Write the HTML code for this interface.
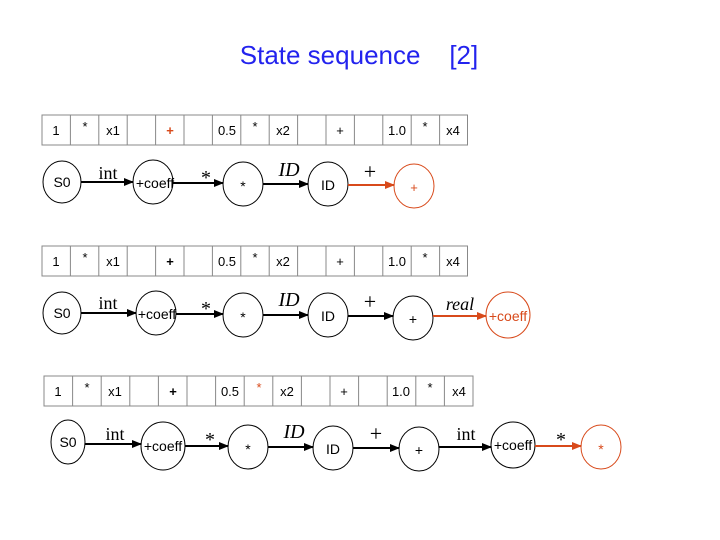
<!DOCTYPE html>
<html><head><style>body{margin:0;background:#fff}svg{display:block}</style></head><body>
<svg width="720" height="540" viewBox="0 0 720 540" xmlns="http://www.w3.org/2000/svg" font-family="Liberation Sans, Arial, sans-serif">
<defs>
<marker id="ab" markerWidth="10" markerHeight="8" refX="9" refY="4" orient="auto" markerUnits="userSpaceOnUse"><path d="M0,0 L10,4 L0,8 z" fill="#000"/></marker>
<marker id="ao" markerWidth="10" markerHeight="8" refX="9" refY="4" orient="auto" markerUnits="userSpaceOnUse"><path d="M0,0 L10,4 L0,8 z" fill="#d84a1b"/></marker>
</defs>
<rect width="720" height="540" fill="#fff"/>
<text x="359" y="64" font-size="26" fill="#2323ee" text-anchor="middle" xml:space="preserve">State sequence    [2]</text>

<g stroke="#888" fill="none" stroke-width="1">
<rect x="42" y="115" width="425.5" height="30"/>
<rect x="42" y="246" width="425.5" height="30"/>
<rect x="44" y="376" width="429" height="30"/>
</g>
<g stroke="#888" stroke-width="1">
<path d="M70.4 115v30M98.8 115v30M127.2 115v30M155.6 115v30M184 115v30M212.4 115v30M240.8 115v30M269.2 115v30M297.6 115v30M326 115v30M354.4 115v30M382.8 115v30M411.2 115v30M439.6 115v30"/>
<path d="M70.4 246v30M98.8 246v30M127.2 246v30M155.6 246v30M184 246v30M212.4 246v30M240.8 246v30M269.2 246v30M297.6 246v30M326 246v30M354.4 246v30M382.8 246v30M411.2 246v30M439.6 246v30"/>
<path d="M72.6 376v30M101.2 376v30M129.8 376v30M158.4 376v30M187 376v30M215.6 376v30M244.2 376v30M272.8 376v30M301.4 376v30M330 376v30M358.6 376v30M387.2 376v30M415.8 376v30M444.4 376v30"/>
</g>
<g font-size="13" text-anchor="middle">
<text x="56" y="135">1</text><text x="85" y="131">*</text><text x="113" y="135">x1</text><text x="170" y="135" fill="#d84a1b" font-weight="bold">+</text><text x="227" y="135">0.5</text><text x="255" y="131">*</text><text x="283" y="135">x2</text><text x="340" y="135">+</text><text x="397" y="135">1.0</text><text x="425" y="131">*</text><text x="453" y="135">x4</text>
<text x="56" y="266">1</text><text x="85" y="262">*</text><text x="113" y="266">x1</text><text x="170" y="266" font-weight="bold">+</text><text x="227" y="266">0.5</text><text x="255" y="262">*</text><text x="283" y="266">x2</text><text x="340" y="266">+</text><text x="397" y="266">1.0</text><text x="425" y="262">*</text><text x="453" y="266">x4</text>
<text x="58" y="396">1</text><text x="87" y="392">*</text><text x="115" y="396">x1</text><text x="173" y="396" font-weight="bold">+</text><text x="230" y="396">0.5</text><text x="259" y="392" fill="#d84a1b">*</text><text x="287" y="396">x2</text><text x="344" y="396">+</text><text x="401" y="396">1.0</text><text x="430" y="392">*</text><text x="459" y="396">x4</text>
</g>

<g fill="none" stroke="#000" stroke-width="1">
<ellipse cx="62" cy="182" rx="19" ry="21"/><ellipse cx="153" cy="182" rx="20" ry="22"/><ellipse cx="243" cy="184" rx="20" ry="22"/><ellipse cx="328" cy="184" rx="20" ry="22"/>
<ellipse cx="414" cy="186" rx="20" ry="22" stroke="#d84a1b"/>
<ellipse cx="62" cy="313" rx="19" ry="21"/><ellipse cx="156" cy="313" rx="20" ry="22"/><ellipse cx="243" cy="315" rx="20" ry="22"/><ellipse cx="328" cy="315" rx="20" ry="22"/><ellipse cx="413" cy="318" rx="20" ry="22"/>
<ellipse cx="508" cy="315" rx="22" ry="23" stroke="#d84a1b"/>
<ellipse cx="68" cy="442" rx="17" ry="22"/><ellipse cx="163" cy="446" rx="22" ry="24"/><ellipse cx="248" cy="447" rx="20" ry="22"/><ellipse cx="333" cy="448" rx="20" ry="22"/><ellipse cx="419" cy="449" rx="20" ry="22"/><ellipse cx="513" cy="445" rx="22" ry="23"/>
<ellipse cx="601" cy="447" rx="20" ry="22" stroke="#d84a1b"/>
</g>
<g stroke-width="2" fill="none">
<line x1="81" y1="182" x2="133" y2="182" stroke="#000" marker-end="url(#ab)"/>
<line x1="173" y1="183" x2="223" y2="183" stroke="#000" marker-end="url(#ab)"/>
<line x1="263" y1="184" x2="308" y2="184" stroke="#000" marker-end="url(#ab)"/>
<line x1="348" y1="185" x2="394" y2="185" stroke="#d84a1b" marker-end="url(#ao)"/>
<line x1="81" y1="313" x2="136" y2="313" stroke="#000" marker-end="url(#ab)"/>
<line x1="176" y1="314" x2="223" y2="314" stroke="#000" marker-end="url(#ab)"/>
<line x1="263" y1="315" x2="308" y2="315" stroke="#000" marker-end="url(#ab)"/>
<line x1="348" y1="316" x2="393" y2="316" stroke="#000" marker-end="url(#ab)"/>
<line x1="433" y1="316" x2="486" y2="316" stroke="#d84a1b" marker-end="url(#ao)"/>
<line x1="85" y1="444" x2="141" y2="444" stroke="#000" marker-end="url(#ab)"/>
<line x1="185" y1="446" x2="228" y2="446" stroke="#000" marker-end="url(#ab)"/>
<line x1="268" y1="447" x2="313" y2="447" stroke="#000" marker-end="url(#ab)"/>
<line x1="353" y1="448" x2="399" y2="448" stroke="#000" marker-end="url(#ab)"/>
<line x1="439" y1="447" x2="491" y2="447" stroke="#000" marker-end="url(#ab)"/>
<line x1="535" y1="446" x2="581" y2="446" stroke="#d84a1b" marker-end="url(#ao)"/>
</g>
<g font-size="14" text-anchor="middle">
<text x="62" y="187">S0</text><text x="155" y="188">+coeff</text><text x="243" y="191">*</text><text x="328" y="190">ID</text><text x="414" y="192" fill="#d84a1b" font-size="13">+</text>
<text x="62" y="318">S0</text><text x="157" y="319">+coeff</text><text x="243" y="322">*</text><text x="328" y="321">ID</text><text x="413" y="324">+</text><text x="508" y="321" fill="#d84a1b">+coeff</text>
<text x="68" y="447">S0</text><text x="163" y="451">+coeff</text><text x="248" y="454">*</text><text x="333" y="454">ID</text><text x="419" y="455">+</text><text x="513" y="450">+coeff</text><text x="601" y="454" fill="#d84a1b">*</text>
</g>
<g font-family="Liberation Serif, serif" font-size="18" text-anchor="middle">
<text x="108" y="179">int</text><text x="206" y="184" font-size="20">*</text><text x="289" y="176" font-style="italic" font-size="20">ID</text><text x="370" y="179" font-size="22">+</text>
<text x="108" y="309">int</text><text x="206" y="315" font-size="20">*</text><text x="289" y="306" font-style="italic" font-size="20">ID</text><text x="370" y="309" font-size="22">+</text><text x="460" y="310" font-style="italic">real</text>
<text x="115" y="440">int</text><text x="210" y="446" font-size="20">*</text><text x="294" y="438" font-style="italic" font-size="20">ID</text><text x="376" y="441" font-size="22">+</text><text x="466" y="440">int</text><text x="561" y="446" font-size="20">*</text>
</g>
</svg>
</body></html>
